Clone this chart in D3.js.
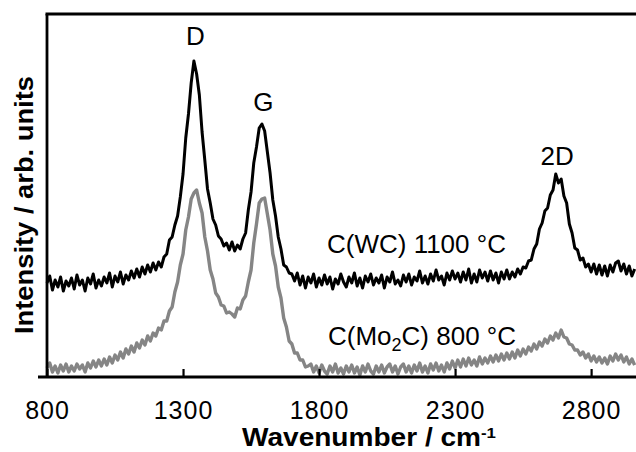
<!DOCTYPE html>
<html>
<head>
<meta charset="utf-8">
<script src="https://cdn.jsdelivr.net/npm/d3@7"></script>
<style>
  body { margin: 0; background: #fff; }
  svg { display: block; font-family: "Liberation Sans", Arial, sans-serif; }
</style>
</head>
<body>
<svg id="drawing_region"></svg>
<script>
// Raman spectra, wavenumber 800..2960 cm-1 in steps of 10 (arb. units)
const wn_start = 800;
const wn_step = 10;

const wc_1100 = [
  94, 101, 87, 97, 90, 100, 86, 96, 91, 99,
  88, 102, 92, 97, 86, 99, 93, 103, 89, 97,
  91, 100, 94, 104, 90, 101, 95, 105, 93, 102,
  97, 106, 99, 108, 100, 110, 103, 112, 105, 114,
  107, 115, 110, 120, 123, 137, 140, 152, 161, 180,
  203, 239, 263, 294, 316, 303, 282, 245, 217, 188,
  174, 158, 152, 141, 138, 131, 134, 127, 135, 126,
  132, 128, 138, 144, 167, 185, 214, 230, 249, 253,
  246, 225, 204, 177, 161, 140, 128, 112, 110, 104,
  103, 96, 104, 92, 101, 89, 100, 94, 103, 90,
  99, 92, 102, 93, 100, 88, 98, 93, 103, 95,
  90, 100, 94, 104, 91, 99, 89, 101, 95, 103,
  92, 99, 94, 102, 89, 100, 95, 105, 93, 97,
  91, 102, 95, 103, 92, 100, 96, 106, 94, 101,
  93, 103, 96, 107, 97, 101, 92, 104, 97, 106,
  98, 104, 95, 105, 97, 108, 94, 103, 95, 107,
  99, 105, 96, 106, 97, 104, 94, 105, 98, 107,
  98, 105, 100, 108, 103, 110, 109, 116, 117, 128,
  133, 148, 154, 166, 169, 182, 187, 203, 194, 198,
  181, 174, 153, 144, 129, 127, 117, 119, 110, 113,
  105, 113, 103, 112, 102, 111, 101, 112, 105, 114,
  116, 106, 113, 103, 111, 101, 108
];

const mo2c_800 = [
  9, 14, 5, 11, 4, 12, 6, 13, 5, 11,
  6, 13, 8, 12, 5, 14, 9, 16, 10, 17,
  11, 18, 12, 20, 14, 22, 17, 25, 19, 28,
  23, 31, 25, 34, 29, 37, 32, 41, 36, 44,
  41, 49, 47, 56, 56, 66, 70, 85, 95, 112,
  123, 147, 160, 178, 184, 187, 174, 164, 140, 126,
  107, 98, 84, 80, 72, 71, 64, 65, 63, 60,
  69, 68, 77, 81, 95, 107, 134, 153, 174, 178,
  179, 163, 147, 123, 111, 90, 79, 59, 50, 36,
  33, 24, 24, 17, 17, 10, 11, 13, 5, 11,
  4, 12, 6, 3, 11, 5, 13, 4, 9, 3,
  11, 5, 12, 4, 10, 2, 11, 5, 13, 6,
  3, 11, 5, 12, 4, 10, 13, 5, 11, 3,
  10, 13, 5, 11, 4, 12, 6, 14, 5, 11,
  4, 13, 7, 14, 6, 12, 5, 14, 8, 16,
  9, 17, 10, 18, 11, 19, 12, 17, 11, 20,
  13, 19, 14, 21, 15, 22, 16, 23, 17, 24,
  18, 25, 19, 27, 21, 28, 23, 30, 26, 33,
  28, 35, 31, 38, 34, 41, 37, 44, 39, 47,
  40, 39, 33, 32, 27, 27, 22, 25, 19, 23,
  16, 21, 15, 20, 14, 19, 13, 21, 16, 23,
  17, 22, 15, 20, 13, 18, 12
];

const x_ticks = [800, 1300, 1800, 2300, 2800];

const peak_labels = [
  {text: 'D', wn: 1345, value: 332},
  {text: 'G', wn: 1595, value: 266},
  {text: '2D', wn: 2675, value: 212}
];

class RamanPlot {

  constructor( config ) {
    this.config = {
      parent: config.parent,
      width: config.width || 636,
      height: config.height || 452,
      margin: config.margin || {top:14, right:0, bottom:75, left:47}
    }
    this.init();
  }

  init(){
    let self = this;

    self.svg = d3.select( self.config.parent )
        .attr('width', self.config.width)
        .attr('height', self.config.height);

    self.inner_width = self.config.width - self.config.margin.left - self.config.margin.right;
    self.inner_height = self.config.height - self.config.margin.top - self.config.margin.bottom;

    self.chart = self.svg.append('g')
        .attr('transform', `translate(${self.config.margin.left}, ${self.config.margin.top})`);

    self.xscale = d3.scaleLinear()
        .domain([800, 2965])
        .range([0, self.inner_width]);

    self.yscale = d3.scaleLinear()
        .domain([0, 363])
        .range([self.inner_height, 0]);

    self.xaxis = d3.axisBottom( self.xscale )
        .tickValues(x_ticks)
        .tickFormat(d3.format('d'))
        .tickSizeInner(-8)
        .tickSizeOuter(0);
  }

  render(){
    let self = this;

    const line = d3.line()
        .x((d, i) => self.xscale(wn_start + i * wn_step))
        .y(d => self.yscale(d));

    self.chart.append('path')
        .datum(mo2c_800)
        .attr('d', line)
        .attr('fill', 'none')
        .attr('stroke', '#858585')
        .attr('stroke-width', 3.4)
        .attr('stroke-linejoin', 'round');

    self.chart.append('path')
        .datum(wc_1100)
        .attr('d', line)
        .attr('fill', 'none')
        .attr('stroke', '#000')
        .attr('stroke-width', 3)
        .attr('stroke-linejoin', 'round');

    // frame: top and left
    self.chart.append('line')
        .attr('x1', -1.5).attr('x2', self.inner_width)
        .attr('y1', 0).attr('y2', 0)
        .attr('stroke', '#000').attr('stroke-width', 3);
    self.chart.append('line')
        .attr('x1', 0).attr('x2', 0)
        .attr('y1', 0).attr('y2', self.inner_height)
        .attr('stroke', '#000').attr('stroke-width', 2.8);

    self.xaxis_group = self.chart.append('g')
        .attr('transform', `translate(0, ${self.inner_height})`)
        .call(self.xaxis);
    self.xaxis_group.select('.domain')
        .attr('stroke-width', 3)
        .attr('d', `M-9,0H${self.inner_width}`);
    self.xaxis_group.selectAll('.tick line')
        .attr('stroke-width', 2.2);
    self.xaxis_group.selectAll('.tick text')
        .attr('y', 42)
        .attr('dy', 0)
        .attr('font-size', 25)
        .attr('letter-spacing', 1)
        .attr('fill', '#000');

    self.chart.selectAll('.peak')
        .data(peak_labels)
        .enter()
        .append('text')
        .attr('class', 'peak')
        .attr('x', d => self.xscale(d.wn))
        .attr('y', d => self.yscale(d.value))
        .attr('text-anchor', 'middle')
        .attr('font-size', 26)
        .text(d => d.text);

    self.chart.append('text')
        .attr('x', 280)
        .attr('y', self.yscale(124))
        .attr('font-size', 26)
        .text('C(WC) 1100 °C');

    const mo = self.chart.append('text')
        .attr('x', 281)
        .attr('y', self.yscale(32))
        .attr('font-size', 26);
    mo.append('tspan').text('C(Mo');
    mo.append('tspan').attr('font-size', 18).attr('dy', 6).text('2');
    mo.append('tspan').attr('dy', -6).text('C) 800 °C');

    // axis titles
    const xt = self.svg.append('text')
        .attr('x', 242)
        .attr('y', 446)
        .attr('font-size', 25)
        .attr('font-weight', 'bold')
        .attr('textLength', 254)
        .attr('lengthAdjust', 'spacingAndGlyphs');
    xt.append('tspan').text('Wavenumber / cm');
    xt.append('tspan').attr('font-size', 15).attr('dy', -8).text('-1');

    self.svg.append('text')
        .attr('transform', 'translate(33, 205) rotate(-90)')
        .attr('text-anchor', 'middle')
        .attr('font-size', 25)
        .attr('font-weight', 'bold')
        .attr('textLength', 258)
        .attr('lengthAdjust', 'spacingAndGlyphs')
        .text('Intensity / arb. units');
  }
}

const plot = new RamanPlot({ parent: '#drawing_region' });
plot.render();
</script>
</body>
</html>
